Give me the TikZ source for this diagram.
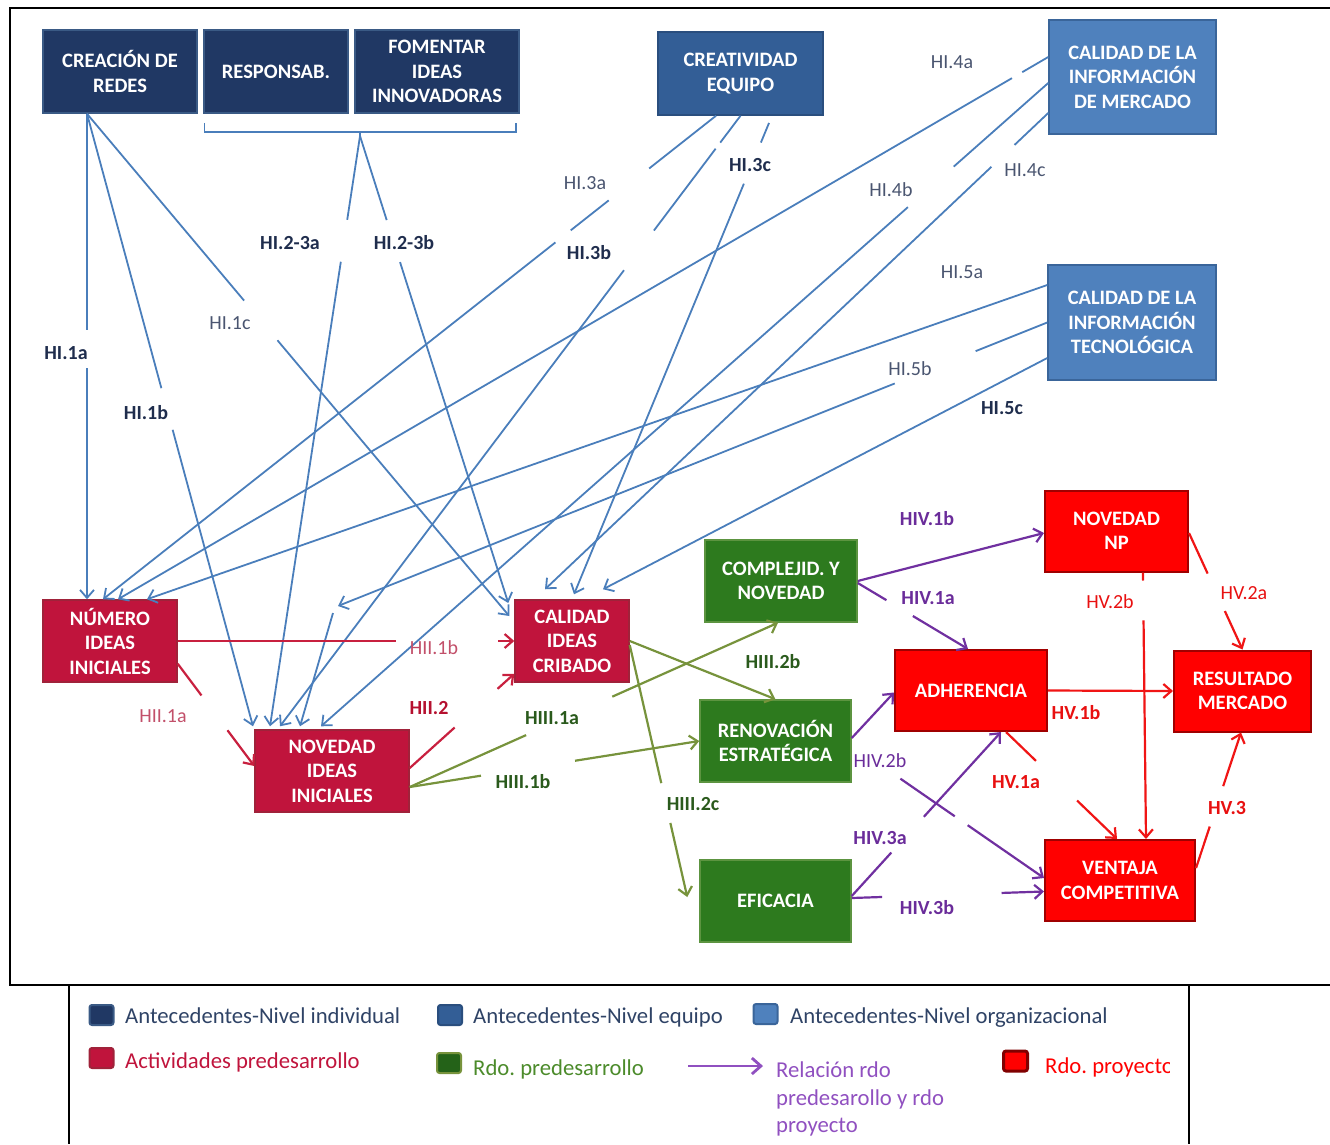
\documentclass[tikz,border=0pt]{standalone}
\usepackage{fontspec}
\setmainfont{Carlito}
\usetikzlibrary{arrows.meta,calc}

\definecolor{indiv}{HTML}{203864}
\definecolor{indivB}{HTML}{3A5A85}
\definecolor{equipo}{HTML}{335E96}
\definecolor{equipoB}{HTML}{2A4E7E}
\definecolor{organ}{HTML}{4F81BD}
\definecolor{organB}{HTML}{3A659A}
\definecolor{activ}{HTML}{C0143C}
\definecolor{activB}{HTML}{A0223A}
\definecolor{predes}{HTML}{2D7A1E}
\definecolor{predesB}{HTML}{5C9440}
\definecolor{proy}{HTML}{FF0000}
\definecolor{proyB}{HTML}{A00000}
\definecolor{lnBlue}{HTML}{4A7EBB}
\definecolor{lnCrim}{HTML}{C8203F}
\definecolor{lnGreen}{HTML}{77933C}
\definecolor{lnPurp}{HTML}{7030A0}
\definecolor{lnRed}{HTML}{F01515}
\definecolor{txNavy}{HTML}{1F2D4D}
\definecolor{txSlate}{HTML}{4A5570}
\definecolor{txCrimL}{HTML}{C2506A}
\definecolor{txCrim}{HTML}{B5102F}
\definecolor{txGreen}{HTML}{2A5A1C}
\definecolor{txPurp}{HTML}{6A2C9A}
\definecolor{txRed}{HTML}{E81010}
\definecolor{lgText}{HTML}{2F4366}
\definecolor{lgGreen}{HTML}{4C8B2B}
\definecolor{lgPurp}{HTML}{9050C0}

\tikzset{
  box/.style={draw, line width=1.5pt, inner sep=0pt, align=center, text=white,
    font=\fontsize{20.5}{24.5}\selectfont\bfseries},
  indivbox/.style={box, fill=indiv, draw=indivB, minimum height=83pt},
  equipobox/.style={box, fill=equipo, draw=equipoB},
  organbox/.style={box, fill=organ, draw=organB},
  activbox/.style={box, fill=activ, draw=activB, minimum height=82pt},
  predesbox/.style={box, fill=predes, draw=predesB, minimum height=82pt},
  proybox/.style={box, fill=proy, draw=proyB, line width=2pt, minimum height=81pt},
  tip/.style={-{Straight Barb[length=8pt,width=14pt]}},
  bl/.style={draw=lnBlue, line width=1.8pt, tip},
  cr/.style={draw=lnCrim, line width=2.2pt, tip},
  gr/.style={draw=lnGreen, line width=2.2pt, tip},
  pu/.style={draw=lnPurp, line width=2.2pt, tip},
  rd/.style={draw=lnRed, line width=2.2pt, tip},
  labR/.style={inner sep=0pt, font=\fontsize{20}{24}\selectfont},
  labB/.style={inner sep=0pt, font=\fontsize{20}{24}\selectfont\bfseries},
  lsq/.style={rounded corners=2.5pt, line width=2pt, minimum width=24pt, minimum height=20pt, inner sep=0pt},
  lgtext/.style={anchor=base west, inner sep=0pt, font=\fontsize{22.7}{28}\selectfont},
}

\begin{document}
\frenchspacing
\begin{tikzpicture}[x=1pt,y=-1pt]
\useasboundingbox (0,0) rectangle (1330,1144);

% frames
\draw[line width=2pt] (1330,8) -- (10,8) -- (10,985) -- (1330,985);
\draw[line width=1.5pt] (69,985) -- (69,1144);
\draw[line width=1.5pt] (1189,985) -- (1189,1144);

% antecedents
\node[indivbox, minimum width=154pt] (cr) at (120,71.5) {CREACIÓN DE\\REDES};
\node[indivbox, minimum width=144pt] (re) at (276,71.5) {RESPONSAB.};
\node[indivbox, minimum width=164pt] (fo) at (437,71.5) {FOMENTAR\\IDEAS\\INNOVADORAS};
\node[equipobox, minimum width=165pt, minimum height=83pt] (ce) at (740.5,73.5) {CREATIVIDAD\\EQUIPO};
\node[organbox, minimum width=167pt, minimum height=114pt] (me) at (1132.5,77) {CALIDAD DE LA\\INFORMACIÓN\\DE MERCADO};
\node[organbox, minimum width=168pt, minimum height=115pt] (te) at (1132,322.5) {CALIDAD DE LA\\INFORMACIÓN\\TECNOLÓGICA};

% predevelopment activities
\node[activbox, minimum width=134pt] (ni) at (110,641) {NÚMERO\\IDEAS\\INICIALES};
\node[activbox, minimum width=154pt] (nv) at (332,771) {NOVEDAD\\IDEAS\\INICIALES};
\node[activbox, minimum width=114pt] (ca) at (572,641) {CALIDAD\\IDEAS\\CRIBADO};

% predevelopment results
\node[predesbox, minimum width=152pt] (co) at (781,581) {COMPLEJID. Y\\NOVEDAD};
\node[predesbox, minimum width=151pt] (rn) at (775.5,741) {RENOVACIÓN\\ESTRATÉGICA};
\node[predesbox, minimum width=151pt] (ef) at (775.5,901) {EFICACIA};

% project results
\node[proybox, minimum width=143pt] (np) at (1116.5,531) {NOVEDAD\\NP};
\node[proybox, minimum width=152pt] (ad) at (971,690.5) {ADHERENCIA};
\node[proybox, minimum width=137pt] (rm) at (1242.5,691) {RESULTADO\\MERCADO};
\node[proybox, minimum width=150pt] (vc) at (1120,880.5) {VENTAJA\\COMPETITIVA};

% bracket grouping RESPONSAB. and FOMENTAR
\draw[lnBlue, line width=1.5pt] ([xshift=1pt,yshift=-9pt]re.south west) |- ([xshift=-4pt,yshift=-18pt]fo.south east) -- ([xshift=-4pt,yshift=-9pt]fo.south east);
\coordinate (brT) at (360,136);
\draw[lnBlue, line width=1.5pt] (360,131) -- (brT);

% start points
\coordinate (crB) at ([xshift=-33pt]cr.south);
\coordinate (ceA) at ([xshift=-24.5pt]ce.south);
\coordinate (ceB) at (ce.south);
\coordinate (ceC) at ([xshift=31.5pt]ce.south);
\coordinate (meA) at ([yshift=20pt]me.west);
\coordinate (meB) at ([yshift=-6pt]me.west);
\coordinate (meC) at ([yshift=-36pt]me.west);
\coordinate (teA) at ([yshift=37.5pt]te.west);
\coordinate (teB) at (te.west);
\coordinate (teC) at ([yshift=-35.5pt]te.west);
% end points
\coordinate (ni1) at ([xshift=-23pt]ni.north);
\coordinate (ni3) at ([xshift=-7pt]ni.north);
\coordinate (ni4) at ([xshift=8pt]ni.north);
\coordinate (ni5) at ([xshift=37pt]ni.north);
\coordinate (nv1) at ([xshift=-79pt,yshift=3pt]nv.north);
\coordinate (nv2) at ([xshift=-62pt,yshift=3pt]nv.north);
\coordinate (nv3) at ([xshift=-52pt,yshift=3pt]nv.north);
\coordinate (nv5) at ([xshift=-32pt,yshift=3pt]nv.north);
\coordinate (nv4) at ([xshift=-11pt,yshift=3pt]nv.north);
\coordinate (ca1) at ([xshift=-5pt,yshift=25pt]ca.west);
\coordinate (ca2) at ([xshift=-6pt,yshift=38pt]ca.west);
\coordinate (ca4) at ([xshift=-27pt,yshift=10pt]ca.north);
\coordinate (ca3) at ([xshift=2pt,yshift=5pt]ca.north);
\coordinate (ca5) at ([xshift=31pt,yshift=10pt]ca.north);
\coordinate (b5) at (338,606);
\coordinate (b5s) at (333,613);

% antecedents -> activities
\draw[bl] (crB) -- ($(crB)!.446!(ni1)$) ($(crB)!.524!(ni1)$) -- (ni1);
\draw[bl] (crB) -- ($(crB)!.448!(nv1)$) ($(crB)!.516!(nv1)$) -- (nv1);
\draw[bl] (crB) -- ($(crB)!.372!(ca1)$) ($(crB)!.451!(ca1)$) -- (ca1);
\draw[bl] (brT) -- ($(brT)!.142!(nv2)$) ($(brT)!.213!(nv2)$) -- (nv2);
\draw[bl] (brT) -- ($(brT)!.18!(ca2)$) ($(brT)!.27!(ca2)$) -- (ca2);
\draw[bl] (ceA) -- ($(ceA)!.109!(ni3)$) ($(ceA)!.175!(ni3)$) -- ($(ceA)!.237!(ni3)$) ($(ceA)!.262!(ni3)$) -- (ni3);
\draw[bl] (ceB) -- ($(ceB)!.044!(nv3)$) ($(ceB)!.054!(nv3)$) -- ($(ceB)!.188!(nv3)$) ($(ceB)!.253!(nv3)$) -- (nv3);
\draw[bl] ($(ceC)!.015!(ca3)$) -- ($(ceC)!.056!(ca3)$) ($(ceC)!.142!(ca3)$) -- (ca3);
\draw[bl] (meA) -- ($(meA)!.028!(ni4)$) ($(meA)!.039!(ni4)$) -- (ni4);
\draw[bl] (meB) -- ($(meB)!.13!(nv4)$) ($(meB)!.193!(nv4)$) -- (nv4);
\draw[bl] (meC) -- ($(meC)!.067!(ca4)$) ($(meC)!.113!(ca4)$) -- (ca4);
\draw[bl] (teA) -- (ni5);
\draw[bl] (teB) -- ($(teB)!.101!(b5)$) ($(teB)!.215!(b5)$) -- (b5);
\draw[bl] (b5s) -- (nv5);
\draw[bl] (teC) -- (ca5);

\node[labB, text=txNavy] (hi1a) at (66,353) {HI.1a};
\node[labB, text=txNavy] (hi1b) at (146,413) {HI.1b};
\node[labR, text=txSlate] (hi1c) at (230,323) {HI.1c};
\node[labB, text=txNavy] (hi23a) at (290,243) {HI.2-3a};
\node[labB, text=txNavy] (hi23b) at (404,243) {HI.2-3b};
\node[labR, text=txSlate] (hi3a) at (585,183) {HI.3a};
\node[labB, text=txNavy] (hi3b) at (589,253) {HI.3b};
\node[labB, text=txNavy] (hi3c) at (750,165) {HI.3c};
\node[labR, text=txSlate] (hi4a) at (952,62) {HI.4a};
\node[labR, text=txSlate] (hi4b) at (891,190) {HI.4b};
\node[labR, text=txSlate] (hi4c) at (1025,170) {HI.4c};
\node[labR, text=txSlate] (hi5a) at (962,272) {HI.5a};
\node[labR, text=txSlate] (hi5b) at (910,369) {HI.5b};
\node[labB, text=txNavy] (hi5c) at (1002,408) {HI.5c};

% activities -> activities
\coordinate (niA) at ([yshift=19pt]ni.south east);
\coordinate (nvL) at ([yshift=5pt]nv.west);
\coordinate (nvR) at ([yshift=3pt]nv.east);
\coordinate (caL) at ([yshift=9pt]ca.south west);
\draw[cr] (ni.east) -- ($(ni.east)!.649!(ca.west)$) ($(ni.east)!.952!(ca.west)$) -- (ca.west);
\draw[cr] (niA) -- ($(niA)!.31!(nvL)$) ($(niA)!.65!(nvL)$) -- (nvL);
\draw[cr] (nvR) -- ($(nvR)!.43!(caL)$) ($(nvR)!.84!(caL)$) -- (caL);
\node[labR, text=txCrimL] (hii1b) at (434,648) {HII.1b};
\node[labR, text=txCrimL] (hii1a) at (163,716) {HII.1a};
\node[labB, text=txCrim] (hii2) at (429,708) {HII.2};

% activities -> predevelopment results
\coordinate (nvG) at ([yshift=-16pt]nv.east);
\coordinate (coB) at ([xshift=-3pt]co.south);
\coordinate (caG) at ([yshift=-4pt]ca.east);
\coordinate (efG) at ([xshift=-12pt,yshift=4pt]ef.west);
\draw[gr] (nvG) -- ($(nvG)!.316!(coB)$) ($(nvG)!.55!(coB)$) -- (coB);
\draw[gr] (nvG) -- ($(nvG)!.246!(rn.west)$) ($(nvG)!.571!(rn.west)$) -- (rn.west);
\draw[gr] (ca.east) -- (rn.north);
\draw[gr] (caG) -- ($(caG)!.548!(efG)$) ($(caG)!.706!(efG)$) -- (efG);
\node[labB, text=txGreen] (hiii1a) at (552,718) {HIII.1a};
\node[labB, text=txGreen] (hiii1b) at (523,782) {HIII.1b};
\node[labB, text=txGreen] (hiii2b) at (773,662) {HIII.2b};
\node[labB, text=txGreen] (hiii2c) at (693,804) {HIII.2c};

% predevelopment results -> project results
\coordinate (coR) at ([yshift=-2pt]co.east);
\coordinate (npL) at ([yshift=-2pt]np.west);
\coordinate (adT) at ([xshift=-3pt]ad.north);
\coordinate (rnU) at ([yshift=3pt]rn.east);
\coordinate (adL) at ([yshift=-2pt]ad.west);
\coordinate (rnD) at ([yshift=-4pt]rn.east);
\coordinate (vcL) at ([yshift=2.5pt]vc.west);
\coordinate (efU) at ([yshift=5pt]ef.east);
\coordinate (adB) at ([xshift=30pt]ad.south);
\coordinate (efR) at ([yshift=3pt]ef.east);
\coordinate (vcL2) at ([yshift=-11pt]vc.west);
\draw[pu] (co.east) -- (npL);
\draw[pu] (coR) -- ($(coR)!.26!(adT)$) ($(coR)!.5!(adT)$) -- (adT);
\draw[pu] (rnU) -- (adL);
\draw[pu] ($(rnD)!.253!(vcL)$) -- ($(rnD)!.536!(vcL)$) ($(rnD)!.603!(vcL)$) -- (vcL);
\draw[pu] (efU) -- ($(efU)!.265!(adB)$) ($(efU)!.483!(adB)$) -- (adB);
\draw[pu] (efR) -- ($(efR)!.158!(vcL2)$) ($(efR)!.779!(vcL2)$) -- (vcL2);
\node[labB, text=txPurp] (hiv1b) at (927,519) {HIV.1b};
\node[labB, text=txPurp] (hiv1a) at (928,598) {HIV.1a};
\node[labR, text=txPurp] (hiv2b) at (880,761) {HIV.2b};
\node[labB, text=txPurp] (hiv3a) at (880,838) {HIV.3a};
\node[labB, text=txPurp] (hiv3b) at (927,908) {HIV.3b};

% project results among themselves
\coordinate (adS) at ([xshift=35pt]ad.south);
\coordinate (vcT) at ([xshift=-3pt]vc.north);
\coordinate (npS) at ([xshift=26.5pt]np.south);
\coordinate (vcT2) at ([xshift=26pt]vc.north);
\coordinate (npR) at ([yshift=-2pt]np.east);
\coordinate (vcR) at ([yshift=12.5pt]vc.east);
\coordinate (rmB) at ([xshift=-1.5pt]rm.south);
\draw[rd] (ad.east) -- (rm.west);
\draw[rd] (adS) -- ($(adS)!.27!(vcT)$) ($(adS)!.64!(vcT)$) -- (vcT);
\draw[rd] (npS) -- ($(npS)!.03!(vcT2)$) ($(npS)!.18!(vcT2)$) -- (vcT2);
\draw[rd] (npR) -- ($(npR)!.348!(rm.north)$) ($(npR)!.67!(rm.north)$) -- (rm.north);
\draw[rd] (vcR) -- ($(vcR)!.306!(rmB)$) ($(vcR)!.604!(rmB)$) -- (rmB);
\node[labB, text=txRed] (hv1b) at (1076,713) {HV.1b};
\node[labB, text=txRed] (hv1a) at (1016,782) {HV.1a};
\node[labR, text=txRed] (hv2b) at (1110,602) {HV.2b};
\node[labR, text=txRed] (hv2a) at (1244,593) {HV.2a};
\node[labB, text=txRed] (hv3) at (1227,808) {HV.3};

% legend
\node[lsq, fill=indiv, draw=indivB] (sq1) at (101.5,1015) {};
\node[lgtext, text=lgText] (lg1) at (125,1023) {Antecedentes-Nivel individual};
\node[lsq, fill=equipo, draw=equipoB] (sq2) at (450,1015) {};
\node[lgtext, text=lgText] (lg2) at (473,1023) {Antecedentes-Nivel equipo};
\node[lsq, fill=organ, draw=organB] (sq3) at (765.5,1014) {};
\node[lgtext, text=lgText] (lg3) at (790,1023) {Antecedentes-Nivel organizacional};
\node[lsq, fill=activ, draw=activB] (sq4) at (101.5,1058) {};
\node[lgtext, text=activ] (lg4) at (125,1068) {Actividades predesarrollo};
\node[lsq, fill=predes!80!black, draw=lnGreen] (sq5) at (449,1063) {};
\node[lgtext, text=lgGreen] (lg5) at (473,1075) {Rdo. predesarrollo};
\coordinate (lgA) at (688,1066);
\coordinate (lgB) at (763,1066);
\draw[draw=lgPurp, line width=2.8pt, -{Straight Barb[length=9pt,width=16pt]}] (lgA) -- (lgB);
\node[lgtext, text=lgPurp] (lg6a) at (776,1077) {Relación rdo};
\node[lgtext, text=lgPurp] (lg6b) at (776,1105) {predesarollo y rdo};
\node[lgtext, text=lgPurp] (lg6c) at (776,1132) {proyecto};
\node[lsq, fill=proy, draw=proyB!80!black, line width=3pt] (sq7) at (1015.5,1061) {};
\begin{scope}
  \clip (1040,1040) rectangle (1169,1095);
  \node[lgtext, text=proy] (lg7) at (1045,1073) {Rdo. proyecto};
\end{scope}
\end{tikzpicture}
\end{document}
